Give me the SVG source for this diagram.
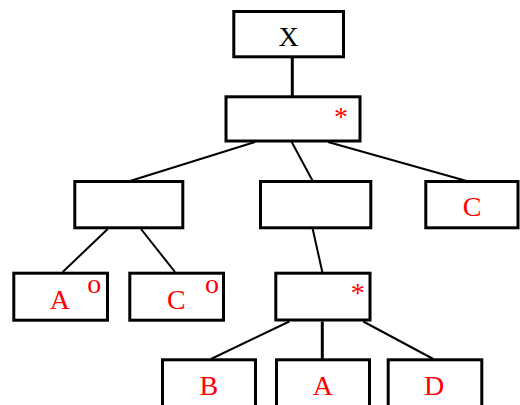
<svg xmlns="http://www.w3.org/2000/svg" width="520" height="405" viewBox="0 0 520 405">
<style>
.box{fill:#fff;stroke:#000;stroke-width:3}
.ln{stroke:#000;stroke-width:2;fill:none}
.thick{stroke-width:3}
.t{font-family:"Liberation Serif","Times New Roman",serif;font-size:28px;text-anchor:middle}
.red{fill:#ff0000}
.blk{fill:#000}
</style>
<rect width="520" height="405" fill="#fff"/>
<g id="connectors">
<line class="ln thick" x1="292.3" y1="57" x2="292.3" y2="97"/>
<line class="ln" x1="255" y1="142" x2="130" y2="181"/>
<line class="ln" x1="291.7" y1="142" x2="312.7" y2="181"/>
<line class="ln" x1="328" y1="142" x2="466.7" y2="181"/>
<line class="ln" x1="107.7" y1="229" x2="62.7" y2="272"/>
<line class="ln" x1="141" y1="229" x2="175" y2="272"/>
<line class="ln" x1="312.7" y1="229" x2="322.3" y2="272"/>
<line class="ln" x1="289.3" y1="321.5" x2="211" y2="359"/>
<line class="ln thick" x1="322.3" y1="321.5" x2="322.3" y2="359"/>
<line class="ln" x1="363.3" y1="321.5" x2="433.3" y2="359"/>
</g>
<g id="nodeX"><rect class="box" x="233.8" y="11.5" width="109.7" height="45.3"/><text class="t blk" x="288.5" y="46">X</text></g>
<g id="nodeStar1"><rect class="box" x="226" y="96.8" width="134" height="44.2"/><text class="t red" x="341" y="125.5">*</text></g>
<g id="nodeL2a"><rect class="box" x="74.8" y="181.5" width="108" height="46.3"/></g>
<g id="nodeL2b"><rect class="box" x="260.5" y="181.5" width="110.3" height="46.3"/></g>
<g id="nodeC1"><rect class="box" x="425.8" y="181.5" width="92.2" height="46.3"/><text class="t red" x="472" y="216">C</text></g>
<g id="nodeAo"><rect class="box" x="13.8" y="273.2" width="93.7" height="47"/><text class="t red" x="59.8" y="309">A</text><text class="t red" x="94.2" y="293">o</text></g>
<g id="nodeCo"><rect class="box" x="129.8" y="273.2" width="93.7" height="47"/><text class="t red" x="176.3" y="309">C</text><text class="t red" x="212" y="293">o</text></g>
<g id="nodeStar2"><rect class="box" x="275.8" y="273.2" width="94.2" height="46.8"/><text class="t red" x="357.8" y="301.5">*</text></g>
<g id="nodeB"><rect class="box" x="162.5" y="359.8" width="93" height="60"/><text class="t red" x="208.8" y="395">B</text></g>
<g id="nodeA"><rect class="box" x="276.5" y="359.8" width="93" height="60"/><text class="t red" x="322.8" y="395">A</text></g>
<g id="nodeD"><rect class="box" x="388.2" y="359.8" width="93.6" height="60"/><text class="t red" x="434.2" y="395">D</text></g>
</svg>
